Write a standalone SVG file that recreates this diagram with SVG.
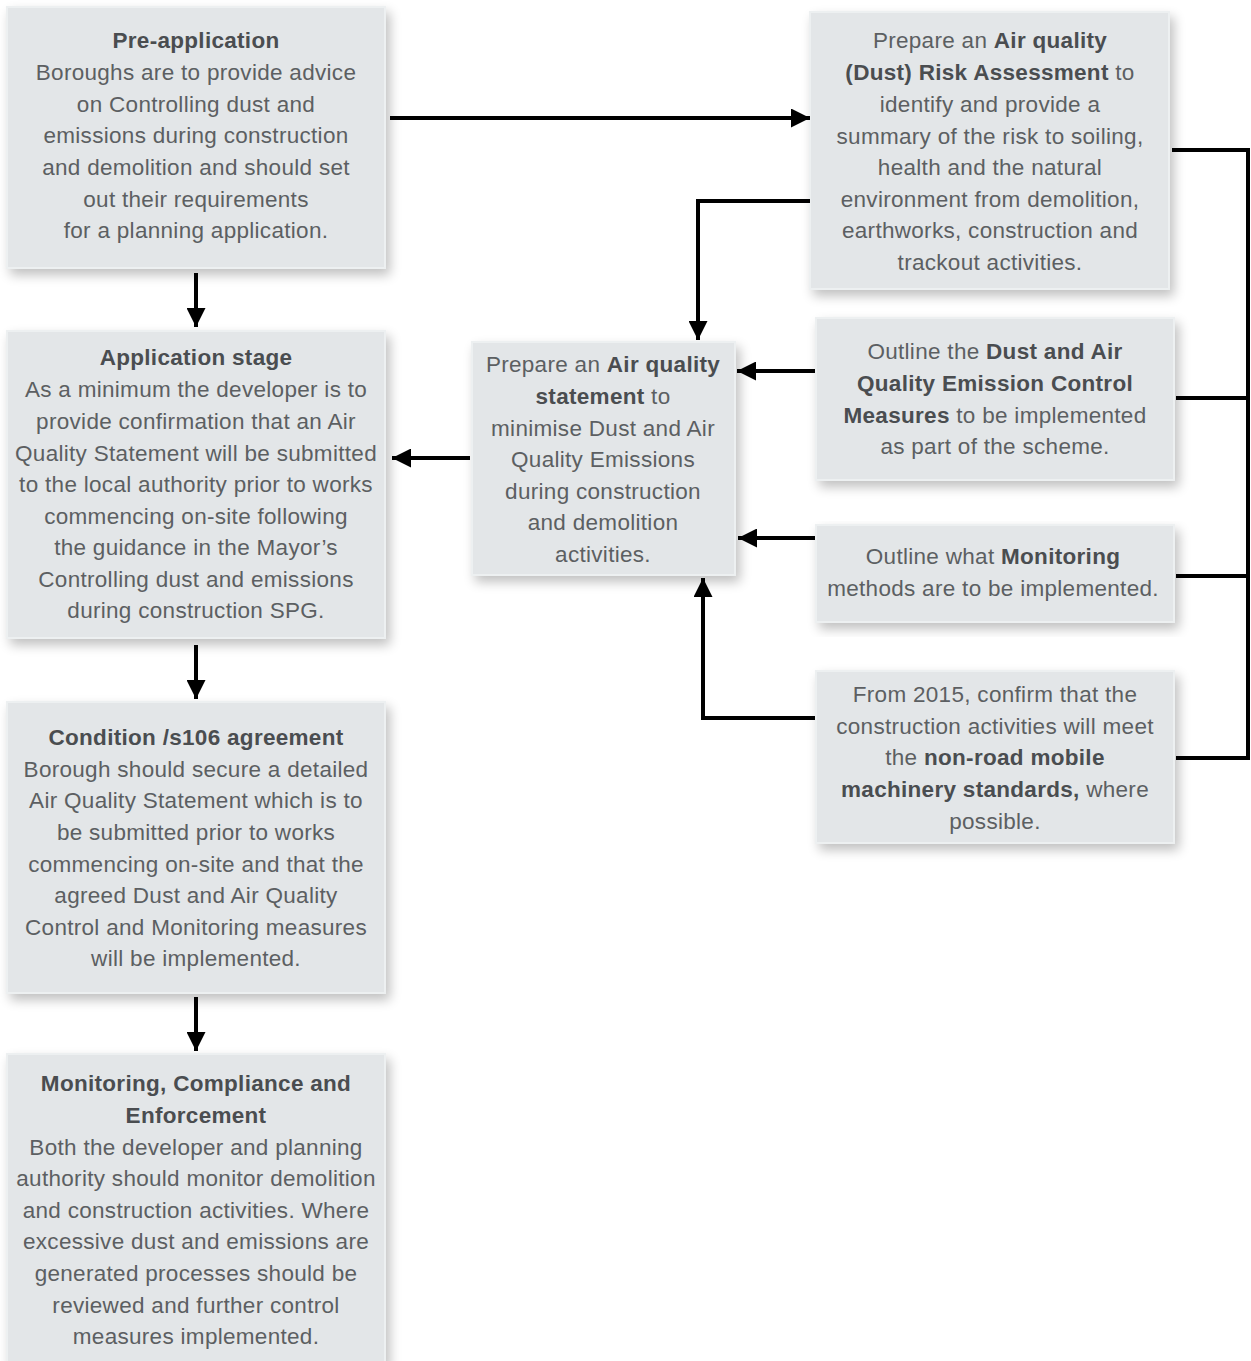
<svg xmlns="http://www.w3.org/2000/svg" width="1251" height="1361" viewBox="0 0 1251 1361">
<defs>
<filter id="sh" x="-10%" y="-10%" width="125%" height="125%">
<feGaussianBlur in="SourceAlpha" stdDeviation="6"/>
<feOffset dx="4" dy="6" result="b"/>
<feComponentTransfer><feFuncA type="linear" slope="0.25"/></feComponentTransfer>
<feMerge><feMergeNode/><feMergeNode in="SourceGraphic"/></feMerge>
</filter>
<marker id="a" viewBox="0 0 10 10" refX="10" refY="5" markerWidth="19" markerHeight="19" markerUnits="userSpaceOnUse" orient="auto">
<path d="M0,0 L10,5 L0,10 Z" fill="#000"/>
</marker>
</defs>
<style>
.box{fill:#e3e6e8;stroke:#edf0f1;stroke-width:2;filter:url(#sh)}
.t{font-family:"Liberation Sans",Arial,sans-serif;font-size:22.5px;letter-spacing:0.3px;fill:#5c5f62;text-anchor:middle}
.b{font-weight:bold;fill:#4a4d50}
.c{fill:none;stroke:#000;stroke-width:4}
</style>
<rect width="1251" height="1361" fill="#fff"/>
<g id="pre-application">
<rect class="box" x="7" y="7" width="378" height="261"/>
<text class="t"><tspan x="196" y="48" class="b">Pre-application</tspan><tspan x="196" y="80">Boroughs are to provide advice</tspan><tspan x="196" y="112">on Controlling dust and</tspan><tspan x="196" y="143">emissions during construction</tspan><tspan x="196" y="175">and demolition and should set</tspan><tspan x="196" y="207">out their requirements</tspan><tspan x="196" y="238">for a planning application.</tspan></text>
</g>
<g id="risk-assessment">
<rect class="box" x="810" y="12" width="359" height="277"/>
<text class="t"><tspan x="990" y="48">Prepare an <tspan class="b">Air quality</tspan></tspan><tspan x="990" y="80"><tspan class="b">(Dust) Risk Assessment</tspan> to</tspan><tspan x="990" y="112">identify and provide a</tspan><tspan x="990" y="144">summary of the risk to soiling,</tspan><tspan x="990" y="175">health and the natural</tspan><tspan x="990" y="207">environment from demolition,</tspan><tspan x="990" y="238">earthworks, construction and</tspan><tspan x="990" y="270">trackout activities.</tspan></text>
</g>
<g id="application-stage">
<rect class="box" x="7" y="331" width="378" height="307"/>
<text class="t"><tspan x="196" y="365" class="b">Application stage</tspan><tspan x="196" y="397">As a minimum the developer is to</tspan><tspan x="196" y="429">provide confirmation that an Air</tspan><tspan x="196" y="461">Quality Statement will be submitted</tspan><tspan x="196" y="492">to the local authority prior to works</tspan><tspan x="196" y="524">commencing on-site following</tspan><tspan x="196" y="555">the guidance in the Mayor’s</tspan><tspan x="196" y="587">Controlling dust and emissions</tspan><tspan x="196" y="618">during construction SPG.</tspan></text>
</g>
<g id="aq-statement">
<rect class="box" x="472" y="342" width="263" height="233"/>
<text class="t"><tspan x="603" y="372">Prepare an <tspan class="b">Air quality</tspan></tspan><tspan x="603" y="404"><tspan class="b">statement</tspan> to</tspan><tspan x="603" y="436">minimise Dust and Air</tspan><tspan x="603" y="467">Quality Emissions</tspan><tspan x="603" y="499">during construction</tspan><tspan x="603" y="530">and demolition</tspan><tspan x="603" y="562">activities.</tspan></text>
</g>
<g id="dust-control">
<rect class="box" x="816" y="318" width="358" height="162"/>
<text class="t"><tspan x="995" y="359">Outline the <tspan class="b">Dust and Air</tspan></tspan><tspan x="995" y="391" class="b">Quality Emission Control</tspan><tspan x="995" y="423"><tspan class="b">Measures</tspan> to be implemented</tspan><tspan x="995" y="454">as part of the scheme.</tspan></text>
</g>
<g id="monitoring-methods">
<rect class="box" x="816" y="525" width="358" height="97"/>
<text class="t"><tspan x="993" y="564">Outline what <tspan class="b">Monitoring</tspan></tspan><tspan x="993" y="596">methods are to be implemented.</tspan></text>
</g>
<g id="nrmm">
<rect class="box" x="816" y="671" width="358" height="172"/>
<text class="t"><tspan x="995" y="702">From 2015, confirm that the</tspan><tspan x="995" y="734">construction activities will meet</tspan><tspan x="995" y="765">the <tspan class="b">non-road mobile</tspan></tspan><tspan x="995" y="797"><tspan class="b">machinery standards,</tspan> where</tspan><tspan x="995" y="829">possible.</tspan></text>
</g>
<g id="condition-s106">
<rect class="box" x="7" y="702" width="378" height="291"/>
<text class="t"><tspan x="196" y="745" class="b">Condition /s106 agreement</tspan><tspan x="196" y="777">Borough should secure a detailed</tspan><tspan x="196" y="808">Air Quality Statement which is to</tspan><tspan x="196" y="840">be submitted prior to works</tspan><tspan x="196" y="872">commencing on-site and that the</tspan><tspan x="196" y="903">agreed Dust and Air Quality</tspan><tspan x="196" y="935">Control and Monitoring measures</tspan><tspan x="196" y="966">will be implemented.</tspan></text>
</g>
<g id="monitoring-compliance">
<rect class="box" x="7" y="1054" width="378" height="310"/>
<text class="t"><tspan x="196" y="1091" class="b">Monitoring, Compliance and</tspan><tspan x="196" y="1123" class="b">Enforcement</tspan><tspan x="196" y="1155">Both the developer and planning</tspan><tspan x="196" y="1186">authority should monitor demolition</tspan><tspan x="196" y="1218">and construction activities. Where</tspan><tspan x="196" y="1249">excessive dust and emissions are</tspan><tspan x="196" y="1281">generated processes should be</tspan><tspan x="196" y="1313">reviewed and further control</tspan><tspan x="196" y="1344">measures implemented.</tspan></text>
</g>
<g id="connectors">
<path class="c" d="M390,118 H810" marker-end="url(#a)"/>
<path class="c" d="M196,273 V327" marker-end="url(#a)"/>
<path class="c" d="M810,201 H698 V340" marker-end="url(#a)"/>
<path class="c" d="M815,371 H737" marker-end="url(#a)"/>
<path class="c" d="M815,538 H738" marker-end="url(#a)"/>
<path class="c" d="M815,718 H703 V578" marker-end="url(#a)"/>
<path class="c" d="M470,458 H392" marker-end="url(#a)"/>
<path class="c" d="M196,645 V699" marker-end="url(#a)"/>
<path class="c" d="M196,997 V1051" marker-end="url(#a)"/>
<path class="c" d="M1172,150 H1248 V758 H1176"/>
<path class="c" d="M1176,398 H1248"/>
<path class="c" d="M1176,576 H1248"/>
</g>
</svg>
